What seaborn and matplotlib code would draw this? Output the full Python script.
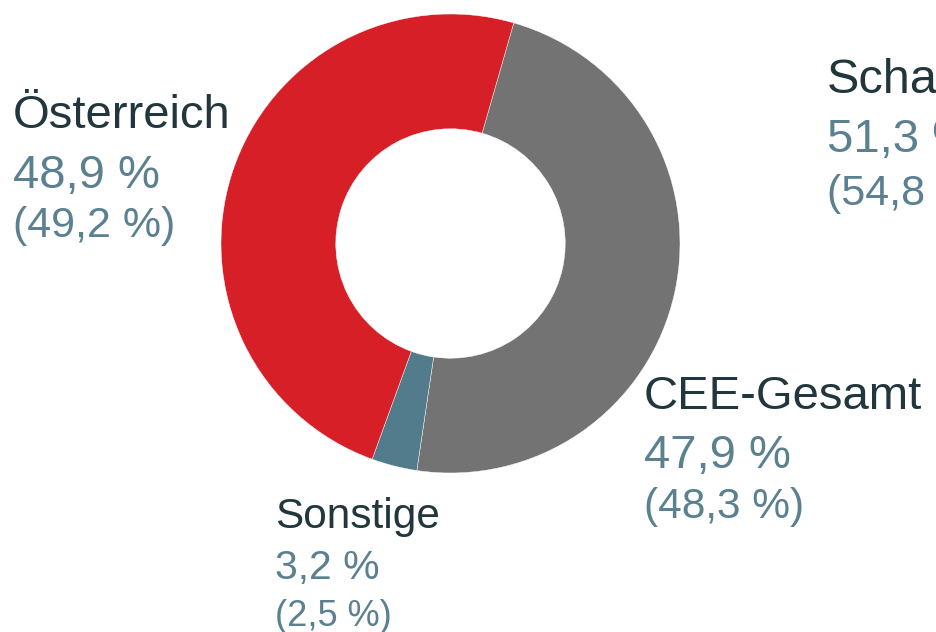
import matplotlib
matplotlib.use("Agg")
import matplotlib.pyplot as plt
import seaborn as sns

# DATA --------------------------------------------------------------
segments = ["CEE-Gesamt", "Sonstige", "Österreich"]
shares = [47.9, 3.2, 48.9]
shares_prev = [48.3, 2.5, 49.2]
segment_colors = ["#737373", "#527B8C", "#D71F27"]

# cut-off label of the neighbouring chart
other_name = "Schaden/Unfall"
other_share = 51.3
other_prev = 54.8

NAME_COLOR = "#22373D"
VALUE_COLOR = "#5B8090"
FONT = "Liberation Sans"


def fmt(v):
    return f"{v:.1f}".replace(".", ",") + " %"


sns.set_style("white")
plt.rcParams["font.family"] = [FONT, "DejaVu Sans"]

W, H = 936, 632
fig = plt.figure(figsize=(W / 100, H / 100), dpi=100)
ax = fig.add_axes([0, 0, 1, 1])

# donut centre / radius in pixels
CX, CY, R = 450.5, 243.5, 229.5

ax.pie(shares, colors=sns.color_palette(segment_colors), startangle=74,
       counterclock=False, radius=1.0,
       wedgeprops=dict(width=0.5, edgecolor="white", linewidth=0.3))
ax.set_xlim(-CX / R, (W - CX) / R)
ax.set_ylim(-(H - CY) / R, CY / R)
ax.set_aspect("auto")
ax.axis("off")


def px(x, y):
    return (x - CX) / R, (CY - y) / R


def label(x, ys, name, val, prev, sizes):
    for text, y, size, col in zip([name, fmt(val), "(" + fmt(prev) + ")"], ys, sizes,
                                  [NAME_COLOR, VALUE_COLOR, VALUE_COLOR]):
        tx, ty = px(x, y)
        ax.text(tx, ty, text, fontsize=size, color=col, ha="left", va="baseline",
                clip_on=True)


label(13, [128, 188, 237], segments[2], shares[2], shares_prev[2], [34, 34, 31])
label(644, [409, 468, 518], segments[0], shares[0], shares_prev[0], [34, 34, 30.5])
label(275, [528, 579, 626], segments[1], shares[1], shares_prev[1], [30.5, 29.5, 26])
label(827, [93, 152, 205], other_name, other_share, other_prev, [35, 34, 31])

fig.savefig("out.png", dpi=100)
